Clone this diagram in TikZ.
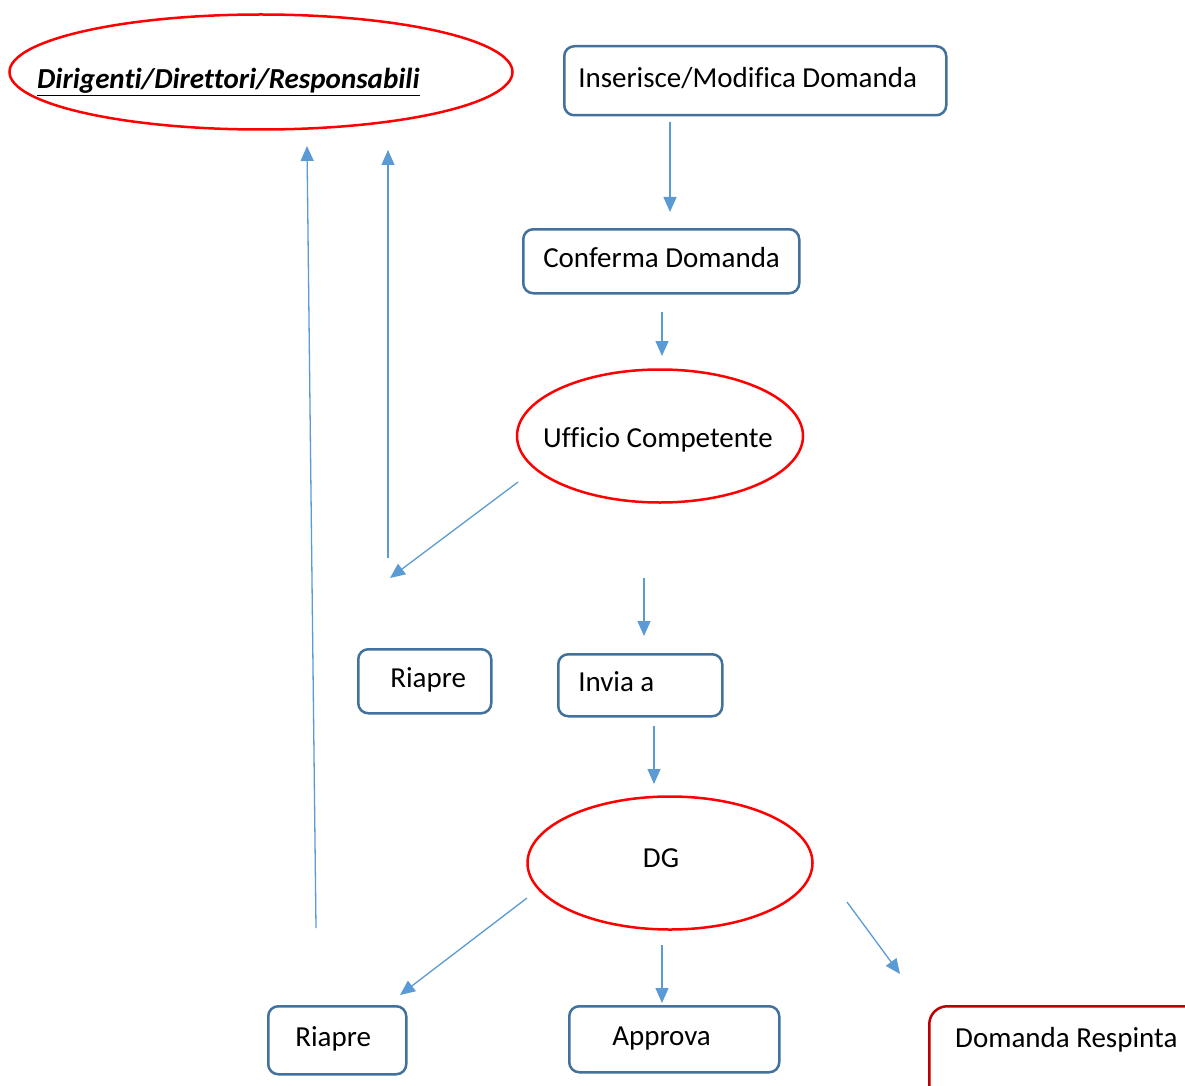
\documentclass[tikz,border=0pt]{standalone}
\usepackage{fontspec}
\setmainfont{Carlito}[Ligatures={NoCommon}]
\usetikzlibrary{arrows.meta,shapes.geometric}
\definecolor{boxc}{HTML}{41719C}
\definecolor{arrc}{HTML}{5B9BD5}
\definecolor{ellc}{HTML}{FF0000}
\definecolor{rejc}{HTML}{C00000}
\begin{document}
\begin{tikzpicture}[x=1pt,y=-1pt,
  every node/.style={font=\fontsize{29}{34}\selectfont},
  rbox/.style={draw=boxc,line width=2.5pt,rounded corners=10pt,inner ysep=0pt,anchor=north west,text height=20pt,text depth=7pt},
  rell/.style={draw=ellc,line width=2.5pt,ellipse,inner sep=0pt},
  txt/.style={inner sep=0pt},
  flow/.style={draw=arrc,line width=1.3pt,-{Triangle[length=15pt,width=13pt]}}]
\clip (0,0) rectangle (1185,1086);
\fill[white] (0,0) rectangle (1185,1086);
% shapes
\node[rell,minimum width=503pt,minimum height=115pt] (dir) at (261,72) {};
\node[txt,anchor=base west] (dirt) at (37,89) {\underline{\textbf{\textit{Dirigenti/Direttori/Responsabili}}}};
\node[rbox,minimum width=382pt,minimum height=69pt,inner xsep=14pt] (ins) at (563,45) {\makebox[354pt][l]{Inserisce/Modifica Domanda}};
\node[rbox,minimum width=276pt,minimum height=64pt,inner xsep=20pt] (conf) at (522,228) {\makebox[236pt][l]{Conferma Domanda}};
\node[rell,minimum width=286pt,minimum height=133pt] (uff) at (660,436) {};
\node[txt,anchor=west] (ufft) at (543,440) {Ufficio Competente};
\node[rbox,minimum width=133pt,minimum height=64pt,inner xsep=32pt] (ria1) at (357,648) {\makebox[69pt][l]{Riapre}};
\node[rbox,minimum width=164pt,minimum height=62pt,inner xsep=20pt] (inv) at (557,653) {\makebox[124pt][l]{Invia a}};
\node[rell,minimum width=285pt,minimum height=133pt] (dg) at (670,863) {};
\node[txt] (dgt) at (661,858) {DG};
\node[rbox,minimum width=138pt,minimum height=68pt,inner xsep=27pt] (ria2) at (267,1005) {\makebox[84pt][l]{Riapre}};
\node[rbox,minimum width=210pt,minimum height=66pt,inner xsep=43pt] (app) at (568,1005) {\makebox[124pt][l]{Approva}};
\node[draw=rejc,line width=2.5pt,rounded corners=18pt,anchor=north west,minimum width=320pt,minimum height=120pt] (rej) at (928,1005) {};
\node[txt,anchor=west] (rejt) at (955,1040) {Domanda Respinta};
% arrow end points
\coordinate (a1s) at (670,122); \coordinate (a1e) at (670,212);
\coordinate (a2s) at (662,312); \coordinate (a2e) at (662,356);
\coordinate (a3s) at (518,482); \coordinate (a3e) at (390,578);
\coordinate (a4s) at (388,558); \coordinate (a4e) at (388,150);
\coordinate (a5s) at (316,928); \coordinate (a5e) at (307,146);
\coordinate (a6s) at (644,578); \coordinate (a6e) at (644,636);
\coordinate (a7s) at (654,726); \coordinate (a7e) at (654,784);
\coordinate (a8s) at (527,898); \coordinate (a8e) at (400,995);
\coordinate (a9s) at (662,945); \coordinate (a9e) at (662,1003);
\coordinate (a10s) at (847,902); \coordinate (a10e) at (900,974);
\draw[flow] (a1s) -- (a1e);
\draw[flow] (a2s) -- (a2e);
\draw[flow] (a3s) -- (a3e);
\draw[flow] (a4s) -- (a4e);
\draw[flow] (a5s) -- (a5e);
\draw[flow] (a6s) -- (a6e);
\draw[flow] (a7s) -- (a7e);
\draw[flow] (a8s) -- (a8e);
\draw[flow] (a9s) -- (a9e);
\draw[flow] (a10s) -- (a10e);
\end{tikzpicture}
\end{document}
